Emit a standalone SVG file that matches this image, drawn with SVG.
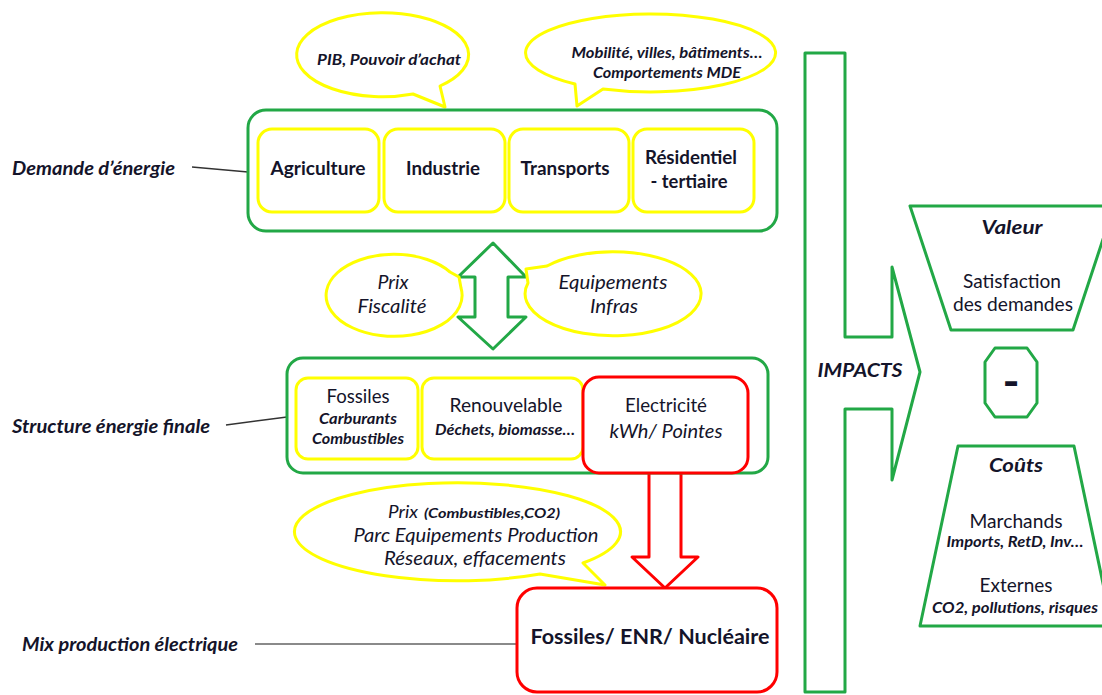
<svg xmlns="http://www.w3.org/2000/svg" width="1102" height="695" viewBox="0 0 1102 695">
<style>
  text { font-family: Lato, "Liberation Sans", sans-serif; fill: #14142a; }
  .g { fill: #ffffff; stroke: #22a846; stroke-width: 3; stroke-linejoin: round; }
  .y { fill: #ffffff; stroke: #ffff00; stroke-width: 3; stroke-linejoin: round; }
  .r { fill: #ffffff; stroke: #ff0000; stroke-width: 3; stroke-linejoin: round; }
  .lead { stroke: #333333; stroke-width: 1.5; fill: none; }
  .lab { font-size: 18.5px; font-weight: bold; text-anchor: middle; }
  .reg { font-size: 18.5px; text-anchor: middle; }
  .bi { font-weight: bold; font-style: italic; }
  .it { font-style: italic; }
  .m { text-anchor: middle; }
</style>
<rect width="1102" height="695" fill="#ffffff"/>

<g id="connectors">
  <line class="lead" x1="192" y1="167" x2="248" y2="172"/>
  <line class="lead" x1="226" y1="425" x2="287" y2="417"/>
  <line x1="255" y1="644" x2="517" y2="644" stroke="#8a8a8a" stroke-width="2"/>
  <polygon id="double-arrow" class="g" points="493,243 526,277 508,277 508,317 526,317 493,349 458,317 475,317 475,277 458,277"/>
  <path id="red-arrow" class="r" d="M649,473 V557 H632 L665,588 L698,557 H681 V473"/>
</g>

<g id="label-demande"><text class="bi" x="12" y="175" font-size="18" textLength="163" lengthAdjust="spacingAndGlyphs">Demande d’énergie</text></g>
<g id="label-structure"><text class="bi" x="12" y="433" font-size="18" textLength="198" lengthAdjust="spacingAndGlyphs">Structure énergie finale</text></g>
<g id="label-mix"><text class="bi" x="22" y="651" font-size="18" textLength="216" lengthAdjust="spacingAndGlyphs">Mix production électrique</text></g>

<g id="callout-pib">
  <path class="y" d="M440,86 L445,107 L413,94 A86,42 0 1 1 440,86 Z"/>
  <text class="bi m" x="389" y="65" font-size="15.5" textLength="144" lengthAdjust="spacingAndGlyphs">PIB, Pouvoir d’achat</text>
</g>
<g id="callout-mobilite">
  <path class="y" d="M575,84 L577,106 L603,89 A125,39 0 1 0 575,84 Z"/>
  <text class="bi m" x="667" y="58" font-size="14.5" textLength="191" lengthAdjust="spacingAndGlyphs">Mobilité, villes, bâtiments…</text>
  <text class="bi m" x="667" y="78" font-size="14.5" textLength="148" lengthAdjust="spacingAndGlyphs">Comportements MDE</text>
</g>

<g id="demande">
  <rect class="g" x="248" y="110" width="529" height="121" rx="18"/>
  <rect class="y" x="258" y="129" width="121" height="83" rx="14"/>
  <rect class="y" x="384" y="129" width="121" height="83" rx="14"/>
  <rect class="y" x="509" y="129" width="120" height="83" rx="14"/>
  <rect class="y" x="633" y="129" width="121" height="83" rx="14"/>
  <text class="lab" x="318" y="175" textLength="95" lengthAdjust="spacingAndGlyphs">Agriculture</text>
  <text class="lab" x="443" y="175" textLength="74" lengthAdjust="spacingAndGlyphs">Industrie</text>
  <text class="lab" x="565" y="175" textLength="89" lengthAdjust="spacingAndGlyphs">Transports</text>
  <text class="lab" x="691" y="164" textLength="92" lengthAdjust="spacingAndGlyphs">Résidentiel</text>
  <text class="lab" x="689" y="188" textLength="77" lengthAdjust="spacingAndGlyphs">- tertiaire</text>
</g>

<g id="callout-prix">
  <path class="y" d="M450,272 L459,277 L461,288 A68,41 0 1 1 450,272 Z"/>
  <text class="it m" x="393" y="289" font-size="18.5" textLength="31" lengthAdjust="spacingAndGlyphs">Prix</text>
  <text class="it m" x="392" y="313" font-size="18.5" textLength="69" lengthAdjust="spacingAndGlyphs">Fiscalité</text>
</g>
<g id="callout-equipements">
  <path class="y" d="M547,266 L526,269 L528,283 A88,42 0 1 0 547,266 Z"/>
  <text class="it m" x="613" y="289" font-size="18.5" textLength="109" lengthAdjust="spacingAndGlyphs">Equipements</text>
  <text class="it m" x="614" y="313" font-size="18.5" textLength="48" lengthAdjust="spacingAndGlyphs">Infras</text>
</g>

<g id="structure">
  <rect class="g" x="287" y="358" width="481" height="115" rx="16"/>
  <rect class="y" x="296" y="378" width="122" height="81" rx="12"/>
  <rect class="y" x="422" y="378" width="161" height="81" rx="12"/>
  <rect class="r" x="583" y="377" width="165" height="96" rx="16"/>
  <text class="reg" x="358" y="403" textLength="63" lengthAdjust="spacingAndGlyphs">Fossiles</text>
  <text class="bi m" x="358" y="424" font-size="14.5" textLength="78" lengthAdjust="spacingAndGlyphs">Carburants</text>
  <text class="bi m" x="358" y="444" font-size="14.5" textLength="92" lengthAdjust="spacingAndGlyphs">Combustibles</text>
  <text class="reg" x="506" y="412" textLength="113" lengthAdjust="spacingAndGlyphs">Renouvelable</text>
  <text class="bi m" x="505" y="435" font-size="14.5" textLength="140" lengthAdjust="spacingAndGlyphs">Déchets, biomasse…</text>
  <text class="reg" x="666" y="412" textLength="82" lengthAdjust="spacingAndGlyphs">Electricité</text>
  <text class="it m" x="666" y="438" font-size="18.5" textLength="113" lengthAdjust="spacingAndGlyphs">kWh/ Pointes</text>
</g>

<g id="callout-production">
  <path class="y" d="M583,563 L605,585 L540,574 A163,49 0 1 1 583,563 Z"/>
  <text class="it" x="388" y="518" font-size="17" textLength="30" lengthAdjust="spacingAndGlyphs">Prix</text>
  <text class="bi" x="424" y="518" font-size="14" textLength="136" lengthAdjust="spacingAndGlyphs">(Combustibles,CO2)</text>
  <text class="it m" x="476" y="542" font-size="18.5" textLength="245" lengthAdjust="spacingAndGlyphs">Parc Equipements Production</text>
  <text class="it m" x="475" y="565" font-size="18.5" textLength="182" lengthAdjust="spacingAndGlyphs">Réseaux, effacements</text>
</g>

<g id="mix">
  <rect class="r" x="517" y="588" width="260" height="104" rx="20"/>
  <text class="m" x="650" y="644" font-size="20" font-weight="bold" textLength="239" lengthAdjust="spacingAndGlyphs">Fossiles/ ENR/ Nucléaire</text>
</g>

<g id="impacts">
  <path class="g" d="M805,53 H845 V337 H892 V267 L920,372 L892,480 V409 H845 V692 H805 Z"/>
  <text class="bi m" x="860" y="377" font-size="18" textLength="85" lengthAdjust="spacingAndGlyphs">IMPACTS</text>
</g>

<g id="valeur">
  <path class="g" d="M910,206 L1114,206 L1073,330 L951,330 Z"/>
  <text class="bi m" x="1012" y="234" font-size="19.5" textLength="61" lengthAdjust="spacingAndGlyphs">Valeur</text>
  <text class="reg" x="1012" y="288" textLength="98" lengthAdjust="spacingAndGlyphs">Satisfaction</text>
  <text class="reg" x="1013" y="311" textLength="120" lengthAdjust="spacingAndGlyphs">des demandes</text>
</g>

<g id="moins">
  <polygon class="g" points="995,348 1027,348 1037,362 1037,403 1027,417 995,417 985,403 985,362"/>
  <text class="m" x="1011" y="398" font-size="46" font-weight="bold">-</text>
</g>

<g id="couts">
  <path class="g" d="M958,446 L1074,446 L1112,626 L920,626 Z"/>
  <text class="bi m" x="1016" y="472" font-size="19.5" textLength="54" lengthAdjust="spacingAndGlyphs">Coûts</text>
  <text class="reg" x="1016" y="528" textLength="93" lengthAdjust="spacingAndGlyphs">Marchands</text>
  <text class="bi m" x="1015" y="547" font-size="14.5" textLength="137" lengthAdjust="spacingAndGlyphs">Imports, RetD, Inv…</text>
  <text class="reg" x="1016" y="592" textLength="73" lengthAdjust="spacingAndGlyphs">Externes</text>
  <text class="bi m" x="1015" y="613" font-size="14.5" textLength="166" lengthAdjust="spacingAndGlyphs">CO2,  pollutions, risques</text>
</g>
</svg>
